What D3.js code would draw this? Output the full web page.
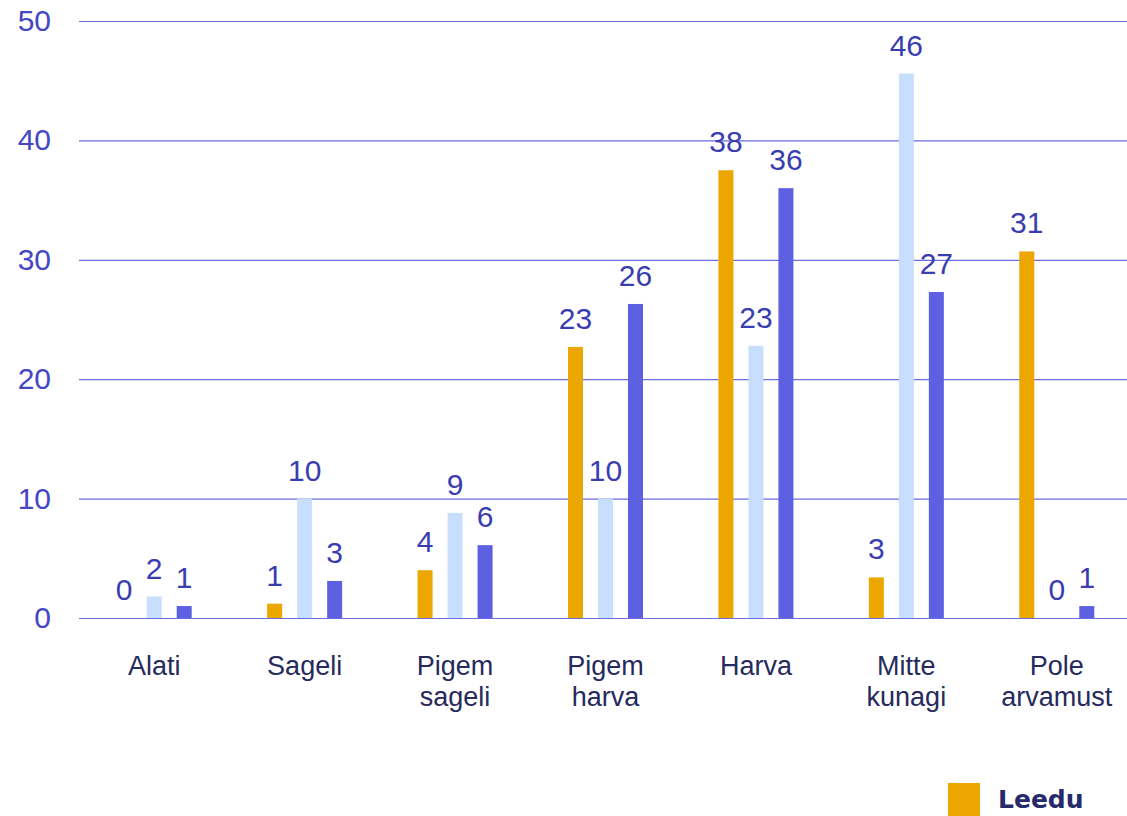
<!DOCTYPE html>
<html lang="en">
<head>
<meta charset="utf-8">
<title>Leedu</title>
<script src="https://d3js.org/d3.v7.min.js"></script>
<style>
  body { margin: 0; background: #fff; }
  text { font-family: "Liberation Sans", Arial, sans-serif; }
</style>
</head>
<body>
<script>

var categories = ["Alati", "Sageli", "Pigem sageli", "Pigem harva", "Harva", "Mitte kunagi", "Pole arvamust"];
var seriesNames = ["Leedu", "s2", "s3"];
var leedu = [0, 1.2, 4.0, 22.7, 37.5, 3.4, 30.7];
var s2 = [1.8, 10.0, 8.8, 10.0, 22.8, 45.6, 0];
var s3 = [1.0, 3.1, 6.1, 26.3, 36.0, 27.3, 1.0];
var yTicks = [0, 10, 20, 30, 40, 50];

var width = 1127, height = 816;
var mLeft = 79, mRight = 1132, mTop = 21, mBottom = 618;
var colors = ["#eba700", "#c7dffc", "#5d60e0"];

var svg = d3.select("body").append("svg")
    .attr("width", width)
    .attr("height", height);

var x = d3.scaleBand()
    .domain(categories)
    .range([mLeft, mRight]);

var x1 = d3.scaleBand()
    .domain(d3.range(3))
    .range([x.bandwidth() / 2 - 45, x.bandwidth() / 2 + 45]);

var y = d3.scaleLinear()
    .domain([0, 50])
    .range([mBottom, mTop]);

// grid
svg.append("g")
    .selectAll("line")
    .data(yTicks)
  .enter().append("line")
    .attr("x1", mLeft)
    .attr("x2", width)
    .attr("y1", d => y(d) + 0.5)
    .attr("y2", d => y(d) + 0.5)
    .attr("stroke", "#6b6de0")
    .attr("stroke-width", 1.2);

// y tick labels
svg.append("g")
    .selectAll("text")
    .data(yTicks)
  .enter().append("text")
    .attr("x", 51)
    .attr("y", d => y(d) + 10)
    .attr("text-anchor", "end")
    .attr("font-size", 30)
    .attr("fill", "#4446c4")
    .text(d => d);

var rows = categories.map((c, i) => ({cat: c, vals: [leedu[i], s2[i], s3[i]]}));

var groups = svg.append("g")
    .selectAll("g")
    .data(rows)
  .enter().append("g")
    .attr("transform", d => "translate(" + x(d.cat) + ",0)");

groups.selectAll("rect")
    .data(d => d.vals)
  .enter().append("rect")
    .attr("x", (d, i) => x1(i) + (x1.bandwidth() - 15) / 2)
    .attr("width", 15)
    .attr("y", d => y(d))
    .attr("height", d => y(0) - y(d))
    .attr("fill", (d, i) => colors[i]);

groups.selectAll("text.val")
    .data(d => d.vals)
  .enter().append("text")
    .attr("class", "val")
    .attr("x", (d, i) => x1(i) + x1.bandwidth() / 2)
    .attr("y", d => y(d) - 18)
    .attr("text-anchor", "middle")
    .attr("font-size", 30)
    .attr("fill", "#3a3db0")
    .text(d => Math.round(d));

// category labels
var cl = svg.append("g")
    .selectAll("text")
    .data(categories)
  .enter().append("text")
    .attr("x", d => x(d) + x.bandwidth() / 2)
    .attr("y", 675)
    .attr("text-anchor", "middle")
    .attr("font-size", 27)
    .attr("fill", "#262a5c");

cl.selectAll("tspan")
    .data(d => d.split(" "))
  .enter().append("tspan")
    .attr("x", function() { return d3.select(this.parentNode).attr("x"); })
    .attr("dy", (d, i) => i === 0 ? 0 : 31)
    .text(d => d);

// legend
var lg = svg.append("g").attr("transform", "translate(948,783)");
lg.append("rect")
    .attr("width", 32)
    .attr("height", 34)
    .attr("fill", colors[0]);
lg.append("text")
    .attr("x", 50)
    .attr("y", 25)
    .attr("font-size", 25)
    .attr("font-weight", "bold")
    .style("font-family", "'DejaVu Sans', sans-serif")
    .attr("fill", "#262a6a")
    .text(seriesNames[0]);

</script>
</body>
</html>
